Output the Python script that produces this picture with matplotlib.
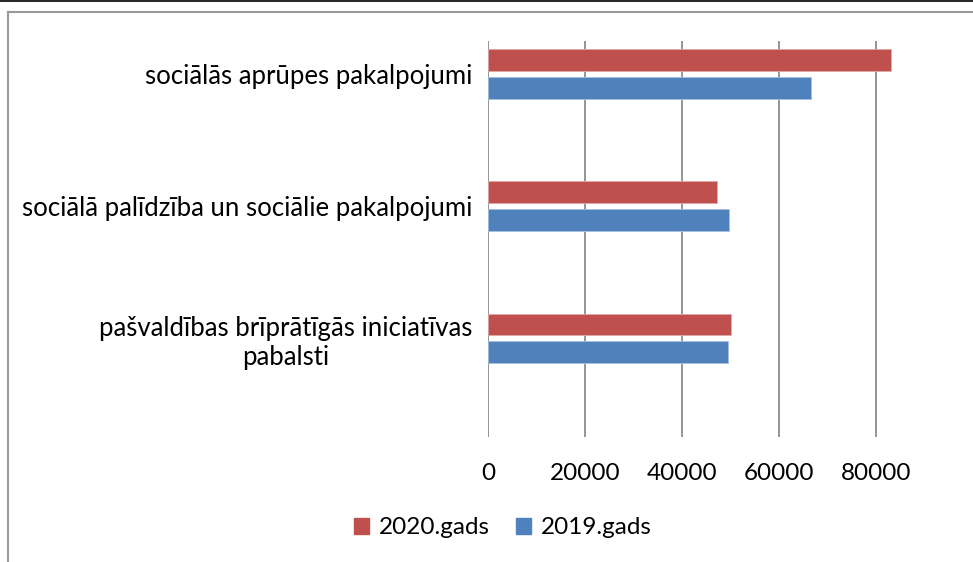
import matplotlib.pyplot as plt
from matplotlib.lines import Line2D
from matplotlib.patches import Patch

categories = [
    "pašvaldības brīprātīgās iniciatīvas\npabalsti",
    "sociālā palīdzība un sociālie pakalpojumi",
    "sociālās aprūpes pakalpojumi",
]
vals_2020 = [50100, 47300, 83000]
vals_2019 = [49500, 49700, 66500]
xticks = [0, 20000, 40000, 60000, 80000]

RED = "#C0504D"
BLUE = "#4F81BD"
FONT = ["Lato", "DejaVu Sans"]
FS = 17.5

plt.rcParams["font.family"] = FONT

fig = plt.figure(figsize=(9.73, 5.62), dpi=100)
W, H = 973, 562
ax = fig.add_axes([488 / W, 1 - 437 / H, (973 - 488) / W, (437 - 41) / H])

ys = list(range(len(categories)))
h = 0.165
off = 0.105
ax.barh([y + off for y in ys], vals_2020, height=h, color=RED,
        edgecolor="#e0a9a7", linewidth=0.6, label="2020.gads", zorder=3)
ax.barh([y - off for y in ys], vals_2019, height=h, color=BLUE,
        edgecolor="#a7bfdd", linewidth=0.6, label="2019.gads", zorder=3)

ax.set_xlim(0, 100000)
ax.set_ylim(-0.746, 2.25)
ax.set_xticks(xticks)
ax.set_xticklabels([str(v) for v in xticks])
ax.set_yticks(ys)
ax.set_yticklabels(categories, multialignment="center")
ax.xaxis.grid(True, color="#8c8c8c", linewidth=1.3, zorder=0)
for s in ax.spines.values():
    s.set_visible(False)
ax.tick_params(axis="y", length=0, pad=11, labelsize=18.5)
ax.tick_params(axis="x", length=0, pad=19, labelsize=FS)

handles = [Patch(color=RED, label="2020.gads"), Patch(color=BLUE, label="2019.gads")]
fig.legend(handles=handles, loc="center", bbox_to_anchor=(503 / W, 1 - 528 / H),
           ncol=2, frameon=False, fontsize=FS, handlelength=0.6,
           handleheight=0.6, handletextpad=0.4, columnspacing=1.1)

# outer frame lines
fig.add_artist(Line2D([0, 1], [1 - 0.5 / H, 1 - 0.5 / H], color="black", lw=1.2))
fig.add_artist(Line2D([8 / W, 1], [1 - 12 / H, 1 - 12 / H], color="#999999", lw=1.5))
fig.add_artist(Line2D([8 / W, 8 / W], [0, 1 - 12 / H], color="#999999", lw=1.5))

fig.savefig("out.png", dpi=100)
